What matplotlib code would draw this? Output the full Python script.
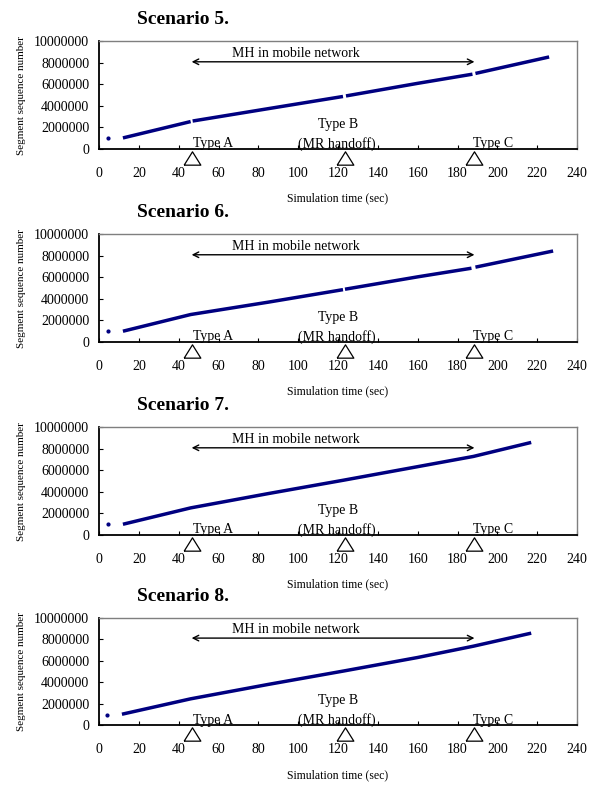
import numpy as np
import matplotlib
matplotlib.use("Agg")
import matplotlib.pyplot as plt

plt.rcParams['font.family'] = ['Liberation Serif', 'DejaVu Serif']

# segment sequence traces (time in sec, seq number)
# each scenario: list of separate pieces (gaps at the handoffs)
s5_t = [[4.5], [12, 46], [47, 85, 122.5], [124, 160, 187.5], [189, 226]]
s5_y = [[1.0e6], [1.03e6, 2.55e6], [2.6e6, 3.75e6, 4.88e6],
        [4.93e6, 6.1e6, 6.95e6], [7.02e6, 8.55e6]]

s6_t = [[4.3], [12, 46, 85, 122.5], [123.5, 160, 187], [189, 228]]
s6_y = [[1.0e6], [1.0e6, 2.55e6, 3.7e6, 4.86e6],
        [4.9e6, 6.05e6, 6.85e6], [6.95e6, 8.45e6]]

s7_t = [[4.3], [12, 46, 85, 123, 160, 188, 217]]
s7_y = [[1.0e6], [1.0e6, 2.52e6, 3.85e6, 5.1e6, 6.35e6, 7.3e6, 8.6e6]]

s8_t = [[3.9], [11.5, 46, 85, 123, 160, 188, 217]]
s8_y = [[1.0e6], [1.03e6, 2.46e6, 3.8e6, 5.05e6, 6.3e6, 7.35e6, 8.56e6]]

titles = ["Scenario 5.", "Scenario 6.", "Scenario 7.", "Scenario 8."]
traces = [(s5_t, s5_y), (s6_t, s6_y), (s7_t, s7_y), (s8_t, s8_y)]

handoff_x = [46.5, 123.5, 188.5]
xticks = list(range(0, 241, 20))
yticks = [0, 2000000, 4000000, 6000000, 8000000, 10000000]

bottoms = [0.8104, 0.5649, 0.3193, 0.0772]
line_col = '#000080'
tri = [(-1, -0.8), (1, -0.8), (0, 0.8), (-1, -0.8)]

fig = plt.figure(figsize=(5.98, 7.86), dpi=100)

for k in range(4):
    ax = fig.add_axes([0.1656, bottoms[k], 0.7993, 0.137])
    tt, yy = traces[k]
    for t, y in zip(tt, yy):
        if len(t) == 1:
            ax.plot(t, y, 'o', color=line_col, ms=2.0)
        else:
            ax.plot(t, y, '-', color=line_col, lw=2.5, solid_capstyle='butt')

    ax.set_xlim(0, 240)
    ax.set_ylim(0, 10000000)
    ax.set_xticks(xticks)
    ax.set_yticks(yticks)
    ax.set_yticklabels([str(v) for v in yticks])
    ax.tick_params(axis='both', direction='in', length=3, width=0.8,
                   labelsize=10, top=False, right=False)
    ax.tick_params(axis='x', pad=13)
    ax.tick_params(axis='y', pad=7)

    for s in ['left', 'bottom']:
        ax.spines[s].set_color('black')
        ax.spines[s].set_linewidth(1.3)
    for s in ['top', 'right']:
        ax.spines[s].set_color('#7f7f7f')
        ax.spines[s].set_linewidth(1.0)

    ax.set_ylabel("Segment sequence number", fontsize=8, labelpad=6)
    ax.set_xlabel("Simulation time (sec)", fontsize=8.5, labelpad=9)
    ax.text(0.176, 1.2, titles[k], transform=ax.transAxes, fontsize=14,
            fontweight='bold', ha='center', va='center')

    # mobile network span
    ax.annotate('', xy=(handoff_x[0], 8.1e6), xytext=(handoff_x[2], 8.1e6),
                arrowprops=dict(arrowstyle='<->', color='black', lw=1.0,
                                shrinkA=0, shrinkB=0))
    ax.text(99, 8.3e6, "MH in mobile network", fontsize=10,
            ha='center', va='bottom')

    ax.text(57.5, 0.15e6, "Type A", fontsize=10, ha='center', va='baseline')
    ax.text(120, 1.95e6, "Type B", fontsize=10, ha='center', va='baseline')
    ax.text(119.5, 0.15e6, "(MR handoff)", fontsize=10, ha='center',
            va='baseline')
    ax.text(198, 0.15e6, "Type C", fontsize=10, ha='center', va='baseline')

    ax.plot(handoff_x, [-0.8e6] * 3, linestyle='none', marker=tri, ms=12,
            mfc='white', mec='black', mew=0.9, clip_on=False, zorder=5)

fig.savefig("out.png", dpi=100)
